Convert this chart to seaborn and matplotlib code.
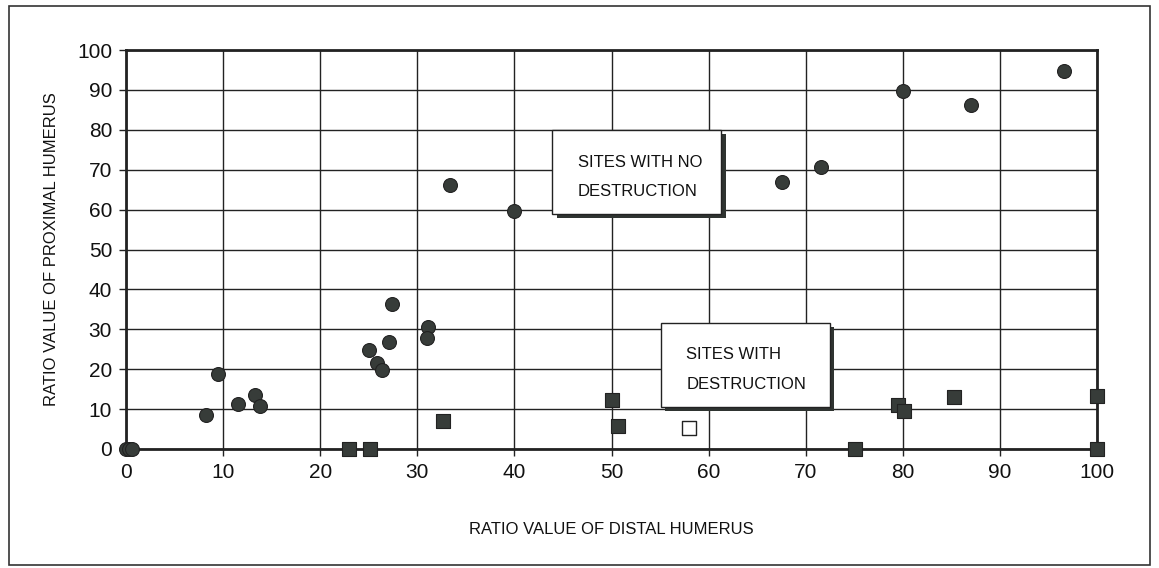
import matplotlib
matplotlib.use("Agg")
import matplotlib.pyplot as plt
import seaborn as sns
import pandas as pd
from matplotlib.patches import Rectangle

# ---- data ----
no_destr_x = [0.0, 0.3, 0.6, 8.2, 9.5, 11.5, 13.3, 13.8, 25.0, 25.8, 26.4, 27.1, 27.4,
              31.1, 31.0, 33.4, 40.0, 67.6, 71.6, 80.0, 87.0, 96.6]
no_destr_y = [0.0, 0.0, 0.0, 8.5, 18.8, 11.3, 13.5, 10.8, 24.8, 21.6, 19.8, 26.8, 36.3,
              30.6, 27.8, 66.2, 59.7, 66.8, 70.8, 89.7, 86.2, 94.8]
destr_x = [23.0, 25.1, 32.6, 50.0, 50.7, 75.1, 79.5, 80.1, 85.3, 100.0, 100.0]
destr_y = [0.0, 0.0, 7.0, 12.3, 5.8, 0.0, 11.0, 9.6, 13.0, 13.4, 0.0]
open_x = [58.0]
open_y = [5.2]
x_ticks = list(range(0, 101, 10))
y_ticks = list(range(0, 101, 10))
x_label = "RATIO VALUE OF DISTAL HUMERUS"
y_label = "RATIO VALUE OF PROXIMAL HUMERUS"
box1_text = "SITES WITH NO\nDESTRUCTION"
box2_text = "SITES WITH\nDESTRUCTION"

sns.set_theme(style="white")
plt.rcParams['font.family'] = ['Liberation Sans', 'DejaVu Sans']

fig = plt.figure(figsize=(11.59, 5.68), dpi=100)
ax = fig.add_axes([126/1159, 1-449/568, (1097-126)/1159, (449-50)/568])

dark = "#373c39"
df1 = pd.DataFrame({"x": no_destr_x, "y": no_destr_y})
df2 = pd.DataFrame({"x": destr_x, "y": destr_y})
df3 = pd.DataFrame({"x": open_x, "y": open_y})

sns.scatterplot(data=df1, x="x", y="y", ax=ax, marker="o", s=100, color=dark,
                edgecolor="#222", linewidth=0.8, clip_on=False, zorder=5)
sns.scatterplot(data=df2, x="x", y="y", ax=ax, marker="s", s=110, color=dark,
                edgecolor="#222", linewidth=0.8, clip_on=False, zorder=5)
sns.scatterplot(data=df3, x="x", y="y", ax=ax, marker="s", s=90, color="white",
                edgecolor="#222", linewidth=1.0, clip_on=False, zorder=5)

ax.set_xlim(0, 100)
ax.set_ylim(0, 100)
ax.set_xticks(x_ticks)
ax.set_yticks(y_ticks)
ax.tick_params(axis="both", direction="out", length=5, width=1.0, color="#222",
               labelsize=15, labelcolor="#111", pad=5)
ax.tick_params(axis="both", which="both", bottom=True, left=True)
ax.grid(True, color="#222", linewidth=1.0)
ax.set_axisbelow(True)
for side, sp in ax.spines.items():
    sp.set_visible(True)
    sp.set_color("#222")
    sp.set_linewidth(2.0)
ax.set_xlabel(x_label, fontsize=12, color="#111", labelpad=29)
ax.set_ylabel(y_label, fontsize=12, color="#111", labelpad=13)
ax.set_facecolor("white")

def box(x0, y0, w, h, text, tx, ty):
    # shadow
    ax.add_patch(Rectangle((x0 + 0.45, y0 - 1.0), w, h, facecolor="#2f3431",
                           edgecolor="none", zorder=6))
    ax.add_patch(Rectangle((x0, y0), w, h, facecolor="white", edgecolor="#222",
                           linewidth=1.0, zorder=7))
    ax.text(tx, ty, text, fontsize=12, color="#111", ha="left", va="center",
            linespacing=2.2, zorder=8)

box(43.9, 59.0, 17.4, 21.0, box1_text, 46.5, 68.2)
box(55.1, 10.5, 17.4, 21.0, box2_text, 57.7, 19.9)

# outer frame
fig.patches.append(Rectangle((9/1159, 1-565/568), (1150-9)/1159, (565-6)/568,
                             transform=fig.transFigure, fill=False,
                             edgecolor="#333", linewidth=1.2))

fig.savefig("out.png", dpi=100, facecolor="white")
